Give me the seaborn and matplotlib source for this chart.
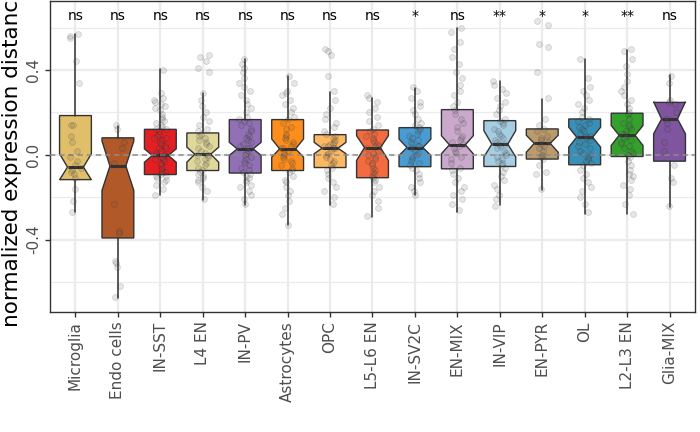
import matplotlib
matplotlib.use("Agg")
import matplotlib.pyplot as plt
import numpy as np
import pandas as pd
import seaborn as sns

cell_types = ["Microglia", "Endo cells", "IN-SST", "L4 EN", "IN-PV", "Astrocytes", "OPC",
              "L5-L6 EN", "IN-SV2C", "EN-MIX", "IN-VIP", "EN-PYR", "OL", "L2-L3 EN", "Glia-MIX"]
box_colors = ["#E1BE6A", "#B15928", "#E41F23", "#E0D79B", "#9270B6", "#FD8E1D", "#FDB863",
              "#F36B3E", "#4A9BD1", "#CAA9CD", "#A6CEE3", "#BC9A6C", "#3A8FB7", "#35A02E", "#7F559F"]
signif = ["ns", "ns", "ns", "ns", "ns", "ns", "ns", "ns", "*", "ns", "**", "*", "*", "**", "ns"]

# box statistics
whis_lo = [-0.27, -0.677, -0.191, -0.215, -0.238, -0.332, -0.235, -0.293, -0.191, -0.27, -0.238, -0.168, -0.277, -0.277, -0.246]
q1 = [-0.117, -0.392, -0.093, -0.074, -0.086, -0.074, -0.06, -0.108, -0.056, -0.066, -0.055, -0.02, -0.047, -0.008, -0.03]
median = [-0.058, -0.053, -0.003, 0.003, 0.028, 0.028, 0.031, 0.034, 0.034, 0.047, 0.05, 0.054, 0.083, 0.092, 0.169]
q3 = [0.185, 0.08, 0.12, 0.103, 0.166, 0.166, 0.095, 0.117, 0.128, 0.213, 0.161, 0.122, 0.169, 0.196, 0.247]
whis_hi = [0.568, 0.138, 0.404, 0.29, 0.451, 0.372, 0.297, 0.27, 0.313, 0.597, 0.349, 0.263, 0.451, 0.495, 0.377]
notch_lo = [-0.118, -0.168, -0.035, -0.035, -0.003, -0.011, 0.005, -0.027, -0.003, 0.005, -0.01, 0.012, 0.036, 0.044, 0.099]
notch_hi = [0.005, 0.065, 0.028, 0.036, 0.059, 0.075, 0.059, 0.09, 0.074, 0.09, 0.114, 0.092, 0.13, 0.138, 0.25]

# individual samples
microglia = [0.57, 0.56, 0.55, 0.44, 0.34, 0.14, 0.14, 0.09, 0.06, 0.02, -0.01, -0.03, -0.05, -0.06,
             -0.07, -0.08, -0.09, -0.11, -0.16, -0.22, -0.27]
endo = [0.14, 0.12, 0.06, 0.03, -0.04, -0.23, -0.36, -0.37, -0.50, -0.51, -0.53, -0.62, -0.67]
in_sst = [0.40, 0.29, 0.27, 0.26, 0.25, 0.24, 0.23, 0.22, 0.21, 0.19, 0.18, 0.17, 0.16, 0.15, 0.14,
          0.13, 0.12, 0.12, 0.11, 0.10, 0.09, 0.08, 0.08, 0.07, 0.06, 0.05, 0.04, 0.03, 0.03, 0.02,
          0.01, 0.00, 0.00, -0.01, -0.02, -0.02, -0.03, -0.04, -0.05, -0.06, -0.07, -0.08, -0.08,
          -0.09, -0.10, -0.10, -0.11, -0.12, -0.13, -0.14, -0.16, -0.19]
l4_en = [0.47, 0.46, 0.44, 0.41, 0.39, 0.29, 0.26, 0.23, 0.20, 0.18, 0.16, 0.14, 0.12, 0.11, 0.10,
         0.09, 0.08, 0.07, 0.06, 0.05, 0.04, 0.03, 0.02, 0.01, 0.00, 0.00, -0.01, -0.02, -0.03,
         -0.04, -0.05, -0.06, -0.07, -0.08, -0.09, -0.10, -0.11, -0.12, -0.13, -0.15, -0.17, -0.21]
in_pv = [0.45, 0.43, 0.41, 0.39, 0.36, 0.34, 0.32, 0.30, 0.28, 0.26, 0.24, 0.22, 0.20, 0.18, 0.17,
         0.16, 0.15, 0.14, 0.12, 0.11, 0.10, 0.09, 0.08, 0.07, 0.06, 0.05, 0.04, 0.03, 0.03, 0.02,
         0.01, 0.00, -0.01, -0.02, -0.03, -0.04, -0.05, -0.06, -0.07, -0.08, -0.09, -0.10, -0.11,
         -0.12, -0.13, -0.14, -0.15, -0.17, -0.19, -0.21, -0.23]
astro = [0.37, 0.34, 0.30, 0.29, 0.28, 0.26, 0.24, 0.22, 0.20, 0.18, 0.17, 0.15, 0.13, 0.12, 0.10,
         0.09, 0.08, 0.07, 0.06, 0.05, 0.04, 0.03, 0.03, 0.02, 0.01, 0.00, -0.01, -0.02, -0.03,
         -0.04, -0.05, -0.06, -0.07, -0.08, -0.10, -0.12, -0.13, -0.15, -0.17, -0.19, -0.22, -0.25,
         -0.28, -0.33]
opc = [0.50, 0.49, 0.47, 0.37, 0.30, 0.26, 0.22, 0.19, 0.17, 0.15, 0.13, 0.11, 0.10, 0.09, 0.08,
       0.07, 0.06, 0.05, 0.05, 0.04, 0.04, 0.03, 0.03, 0.02, 0.01, 0.00, -0.01, -0.02, -0.03, -0.04,
       -0.05, -0.06, -0.07, -0.09, -0.11, -0.13, -0.15, -0.17, -0.20, -0.23]
l5_l6 = [0.28, 0.27, 0.25, 0.22, 0.20, 0.18, 0.16, 0.14, 0.12, 0.11, 0.10, 0.09, 0.08, 0.07, 0.06,
         0.05, 0.04, 0.04, 0.03, 0.02, 0.01, 0.00, -0.01, -0.02, -0.03, -0.04, -0.05, -0.06, -0.07,
         -0.08, -0.09, -0.10, -0.11, -0.12, -0.13, -0.15, -0.17, -0.19, -0.22, -0.25, -0.29]
in_sv2c = [0.32, 0.30, 0.27, 0.25, 0.23, 0.21, 0.19, 0.17, 0.15, 0.14, 0.13, 0.12, 0.11, 0.10, 0.09,
           0.08, 0.07, 0.06, 0.05, 0.04, 0.04, 0.03, 0.02, 0.01, 0.00, -0.01, -0.02, -0.03, -0.04,
           -0.05, -0.06, -0.07, -0.09, -0.11, -0.13, -0.15, -0.17, -0.19]
en_mix = [0.60, 0.58, 0.53, 0.50, 0.46, 0.43, 0.39, 0.36, 0.33, 0.30, 0.28, 0.25, 0.23, 0.21, 0.19,
          0.17, 0.15, 0.13, 0.11, 0.09, 0.08, 0.07, 0.06, 0.05, 0.04, 0.03, 0.02, 0.01, -0.01, -0.02,
          -0.04, -0.06, -0.07, -0.09, -0.11, -0.13, -0.15, -0.17, -0.19, -0.21, -0.23, -0.26]
in_vip = [0.35, 0.33, 0.31, 0.29, 0.27, 0.25, 0.23, 0.21, 0.19, 0.17, 0.16, 0.15, 0.14, 0.12, 0.11,
          0.10, 0.09, 0.08, 0.07, 0.06, 0.05, 0.05, 0.04, 0.03, 0.02, 0.01, 0.00, -0.01, -0.02, -0.03,
          -0.04, -0.05, -0.06, -0.08, -0.10, -0.12, -0.14, -0.16, -0.19, -0.21, -0.24]
en_pyr = [0.63, 0.61, 0.52, 0.51, 0.39, 0.27, 0.17, 0.14, 0.12, 0.11, 0.09, 0.08, 0.07, 0.06, 0.05,
          0.04, 0.03, 0.02, 0.00, -0.01, -0.02, -0.05, -0.08, -0.09, -0.16]
ol = [0.45, 0.36, 0.32, 0.30, 0.28, 0.26, 0.24, 0.22, 0.20, 0.18, 0.17, 0.16, 0.15, 0.14, 0.13,
      0.12, 0.11, 0.10, 0.09, 0.09, 0.08, 0.07, 0.06, 0.05, 0.04, 0.03, 0.02, 0.01, 0.00, -0.01,
      -0.02, -0.03, -0.04, -0.05, -0.07, -0.09, -0.11, -0.13, -0.15, -0.17, -0.20, -0.23, -0.27]
l2_l3 = [0.50, 0.49, 0.45, 0.42, 0.38, 0.35, 0.32, 0.30, 0.28, 0.26, 0.24, 0.22, 0.20, 0.19, 0.17,
         0.15, 0.14, 0.13, 0.12, 0.11, 0.10, 0.10, 0.09, 0.08, 0.07, 0.06, 0.05, 0.04, 0.03, 0.02,
         0.01, 0.00, -0.01, -0.03, -0.05, -0.07, -0.09, -0.10, -0.12, -0.14, -0.16, -0.19, -0.23, -0.28]
glia_mix = [0.37, 0.34, 0.26, 0.25, 0.24, 0.20, 0.17, 0.15, 0.12, 0.06, 0.02, -0.05, -0.11, -0.13, -0.24]

samples = [microglia, endo, in_sst, l4_en, in_pv, astro, opc, l5_l6, in_sv2c, en_mix,
           in_vip, en_pyr, ol, l2_l3, glia_mix]
df = pd.DataFrame({
    "cell_type": [ct for ct, vals in zip(cell_types, samples) for _ in vals],
    "dist": [v for vals in samples for v in vals],
})

sns.set_style("white")
plt.rcParams["font.family"] = ["DejaVu Sans"]

fig = plt.figure(figsize=(7, 4.32), dpi=100)
ax = fig.add_axes([50 / 700, 120 / 432, 645 / 700, 311 / 432])

stats = []
for i, ct in enumerate(cell_types):
    stats.append(dict(label=ct, whislo=whis_lo[i], q1=q1[i], med=median[i], q3=q3[i],
                      whishi=whis_hi[i], cilo=notch_lo[i], cihi=notch_hi[i], fliers=[]))

bp = ax.bxp(stats, positions=range(len(cell_types)), widths=0.75, shownotches=True,
            showcaps=False, showfliers=False, patch_artist=True, manage_ticks=False,
            boxprops=dict(edgecolor="#333333", linewidth=1.0),
            whiskerprops=dict(color="#333333", linewidth=1.1),
            medianprops=dict(color="#333333", linewidth=2.2), zorder=2)
for patch, c in zip(bp["boxes"], box_colors):
    patch.set_facecolor(c)

ax.axhline(0, color="#8C8C8C", linestyle=(0, (3.5, 2.5)), linewidth=1.1, zorder=3)

sns.stripplot(data=df, x="cell_type", y="dist", order=cell_types, jitter=0.15, size=4.2,
              color="#606060", alpha=0.15, linewidth=0.6, edgecolor="black", ax=ax, zorder=4)

for i, s in enumerate(signif):
    ax.text(i, 0.635, s, ha="center", va="baseline", fontsize=10, color="black")

ax.set_xlim(-0.6, len(cell_types) - 0.4)
ax.set_ylim(-0.741, 0.725)

ax.set_yticks([-0.4, 0.0, 0.4])
ax.set_yticklabels(["-0.4", "0.0", "0.4"], rotation=90, va="center")
ax.set_yticks([-0.6, -0.2, 0.2, 0.6], minor=True)
ax.set_xticks(range(len(cell_types)))
ax.set_xticklabels(cell_types, rotation=90, ha="center", va="top")

ax.grid(True, which="major", color="#EBEBEB", linewidth=1.6, zorder=0)
ax.grid(True, which="minor", axis="y", color="#EBEBEB", linewidth=0.9, zorder=0)
ax.set_axisbelow(True)

ax.tick_params(axis="both", which="major", length=3.5, width=1.0, color="#333333",
               labelcolor="#4D4D4D", labelsize=11, pad=3, left=True, bottom=True)
ax.tick_params(axis="y", which="minor", length=0)
for sp in ax.spines.values():
    sp.set_color("#333333")
    sp.set_linewidth(1.0)

ax.set_xlabel("")
ax.set_ylabel("normalized expression distance", fontsize=15.5, color="black")
ax.yaxis.set_label_coords(-0.043, 0.5)

fig.savefig("out.png", dpi=100)
